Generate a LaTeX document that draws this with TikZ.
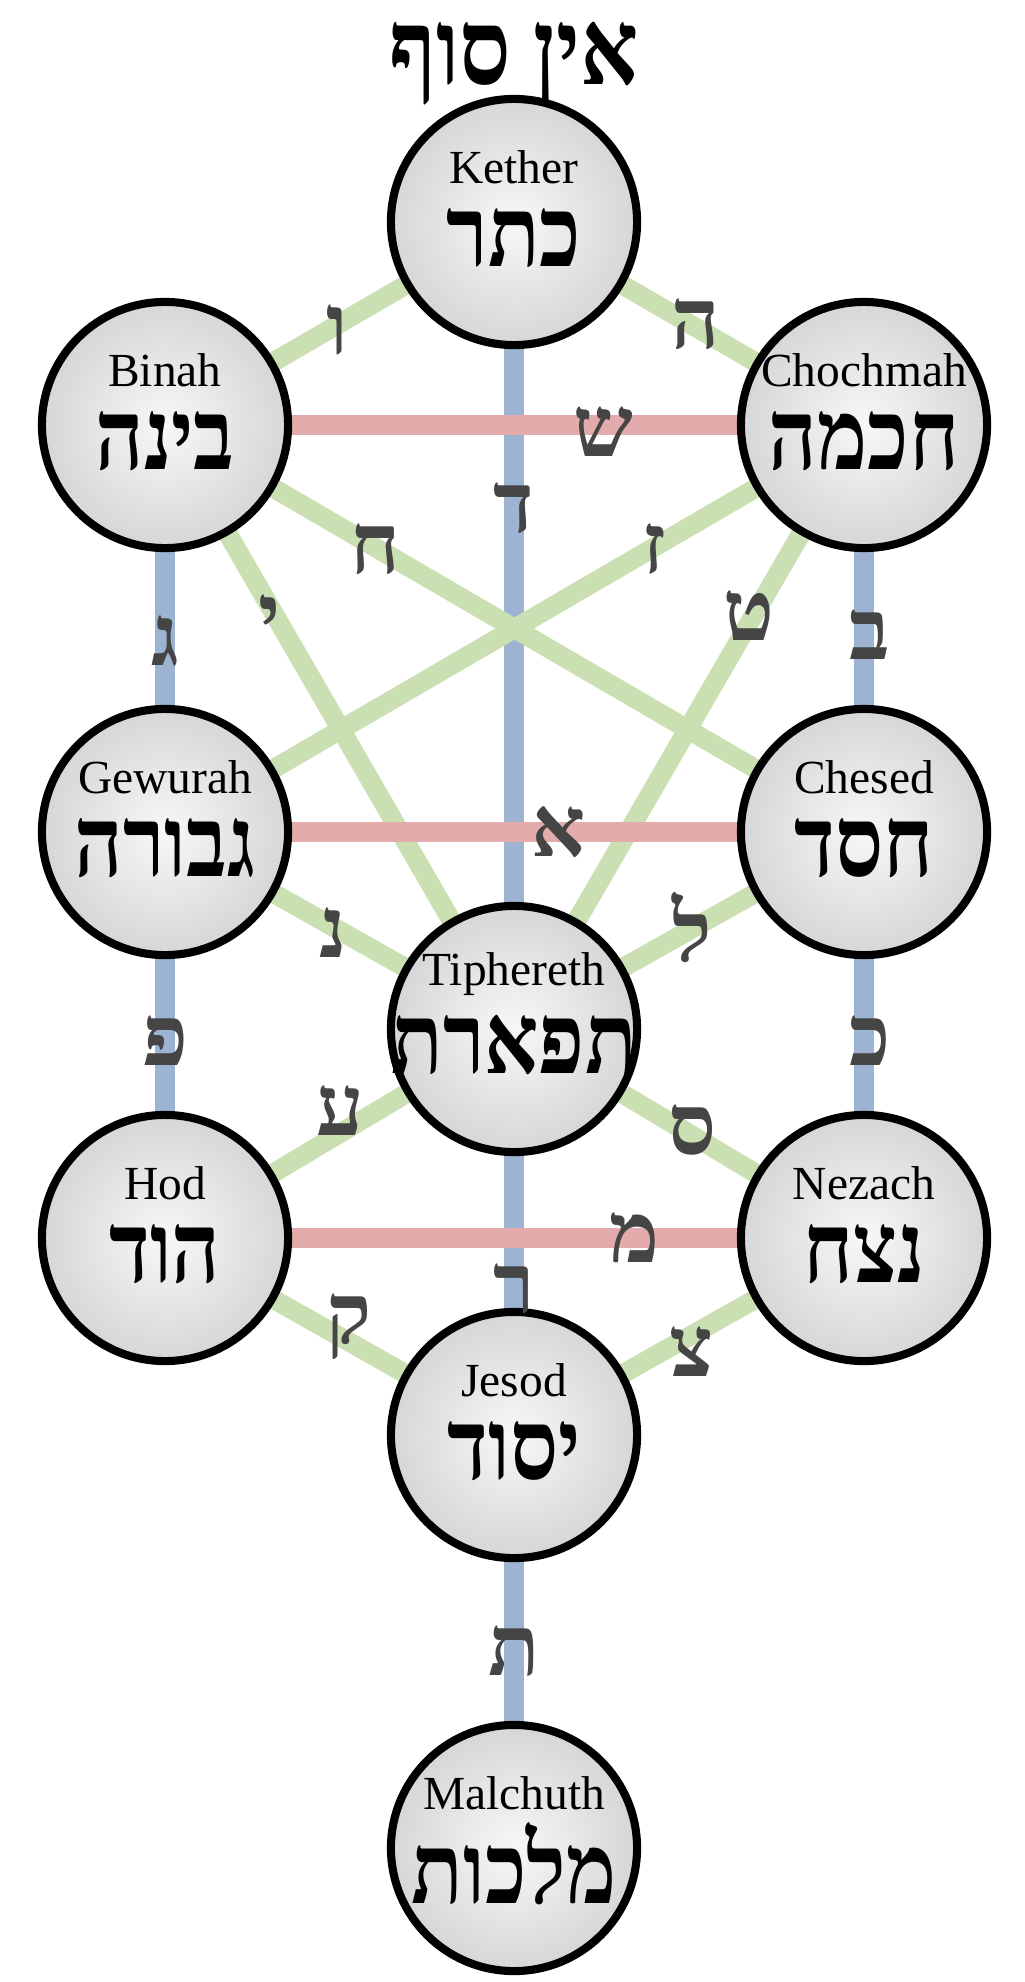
\documentclass[tikz,border=0pt]{standalone}
\usepackage{fontspec}
\setmainfont{Liberation Serif}
\newfontfamily\hebfont[Script=Hebrew]{Liberation Serif}
\newfontfamily\hebnarrow[Script=Hebrew, FakeStretch=0.86]{Liberation Serif}
\TeXXeTstate=1
\usetikzlibrary{calc}
\definecolor{pathgreen}{HTML}{CADFB2}
\definecolor{pathred}{HTML}{E3ABAB}
\definecolor{pathblue}{HTML}{9CB4D1}
\definecolor{lettergray}{HTML}{454545}
\tikzset{
  sephira/.style={draw, circle, line width=2.3pt, minimum size=2.46cm, inner sep=0pt,
    shading=radial, inner color=gray!6, outer color=gray!32},
  latinname/.style={font=\fontsize{13.5}{14}\selectfont},
  hebname/.style={font=\hebnarrow\bfseries\fontsize{28}{28}\selectfont},
  gpath/.style={pathgreen, line width=5.5pt},
  rpath/.style={pathred, line width=5.5pt},
  bpath/.style={pathblue, line width=5.5pt},
  letter/.style={lettergray, font=\hebfont\bfseries\fontsize{24}{24}\selectfont}
}
\newcommand{\sephnames}[3]{%
  \node [latinname] at ($(#1) + (0,-55)$) {#2};
  \node [hebname] at ($(#1) + (0,16)$) {\beginR #3\endR};}
\begin{document}
\begin{tikzpicture}[x=0.01cm, y=-0.01cm]
      \useasboundingbox (0,0) rectangle (1024,1982);

      \coordinate (kether) at (514,222);
      \coordinate (binah) at (165,425);
      \coordinate (chochmah) at (864,425);
      \coordinate (gewurah) at (165,832);
      \coordinate (chesed) at (864,832);
      \coordinate (tiphereth) at (514,1029);
      \coordinate (hod) at (165,1238);
      \coordinate (nezach) at (864,1238);
      \coordinate (jesod) at (514,1435);
      \coordinate (malchuth) at (514,1848);

      % vertical paths
      \draw [bpath] (kether) -- (malchuth);
      \draw [bpath] (binah) -- (hod);
      \draw [bpath] (chochmah) -- (nezach);

      % diagonal paths
      \draw [gpath] (kether) -- (binah);
      \draw [gpath] (kether) -- (chochmah);
      \draw [gpath] (binah) -- (chesed);
      \draw [gpath] (chochmah) -- (gewurah);
      \draw [gpath] (binah) -- (tiphereth);
      \draw [gpath] (chochmah) -- (tiphereth);
      \draw [gpath] (gewurah) -- (tiphereth);
      \draw [gpath] (chesed) -- (tiphereth);
      \draw [gpath] (hod) -- (tiphereth);
      \draw [gpath] (nezach) -- (tiphereth);
      \draw [gpath] (hod) -- (jesod);
      \draw [gpath] (nezach) -- (jesod);

      % horizontal paths
      \draw [rpath] (binah) -- (chochmah);
      \draw [rpath] (gewurah) -- (chesed);
      \draw [rpath] (hod) -- (nezach);

      \node [name=title, font=\hebnarrow\bfseries\fontsize{30}{30}\selectfont] at (514,64) {\beginR אין סוף\endR};

      \node [sephira, name=s1] at (kether) {};
      \sephnames{s1}{Kether}{כתר}
      \node [sephira, name=s2] at (chochmah) {};
      \sephnames{s2}{Chochmah}{חכמה}
      \node [sephira, name=s3] at (binah) {};
      \sephnames{s3}{Binah}{בינה}
      \node [sephira, name=s4] at (chesed) {};
      \sephnames{s4}{Chesed}{חסד}
      \node [sephira, name=s5] at (gewurah) {};
      \sephnames{s5}{Gewurah}{גבורה}
      \node [sephira, name=s6] at (tiphereth) {};
      \sephnames{s6}{Tiphereth}{תפארת}
      \node [sephira, name=s7] at (nezach) {};
      \sephnames{s7}{Nezach}{נצח}
      \node [sephira, name=s8] at (hod) {};
      \sephnames{s8}{Hod}{הוד}
      \node [sephira, name=s9] at (jesod) {};
      \sephnames{s9}{Jesod}{יסוד}
      \node [sephira, name=s10] at (malchuth) {};
      \sephnames{s10}{Malchuth}{מלכות}

      % letters of the paths
      \node [letter, name=l1] at (337,330) {ו};
      \node [letter, name=l2] at (696,324) {ה};
      \node [letter, name=l3] at (603,432) {ש};
      \node [letter, name=l4] at (514,508) {ד};
      \node [letter, name=l5] at (375,549) {ח};
      \node [letter, name=l6] at (654,549) {ז};
      \node [letter, name=l7] at (165,641) {ג};
      \node [letter, name=l8] at (270,620) {י};
      \node [letter, name=l9] at (749,616) {ט};
      \node [letter, name=l10] at (870,635) {ב};
      \node [letter, name=l11] at (559,832) {א};
      \node [letter, name=l12] at (333,933) {נ};
      \node [letter, name=l13] at (692,927) {ל};
      \node [letter, name=l14] at (165,1041) {פ};
      \node [letter, name=l15] at (870,1041) {כ};
      \node [letter, name=l16] at (340,1111) {ע};
      \node [letter, name=l17] at (692,1130) {ס};
      \node [letter, name=l18] at (635,1238) {מ};
      \node [letter, name=l19] at (514,1289) {ר};
      \node [letter, name=l20] at (349,1327) {ק};
      \node [letter, name=l21] at (692,1352) {צ};
      \node [letter, name=l22] at (514,1651) {ת};
    \end{tikzpicture}
\end{document}
